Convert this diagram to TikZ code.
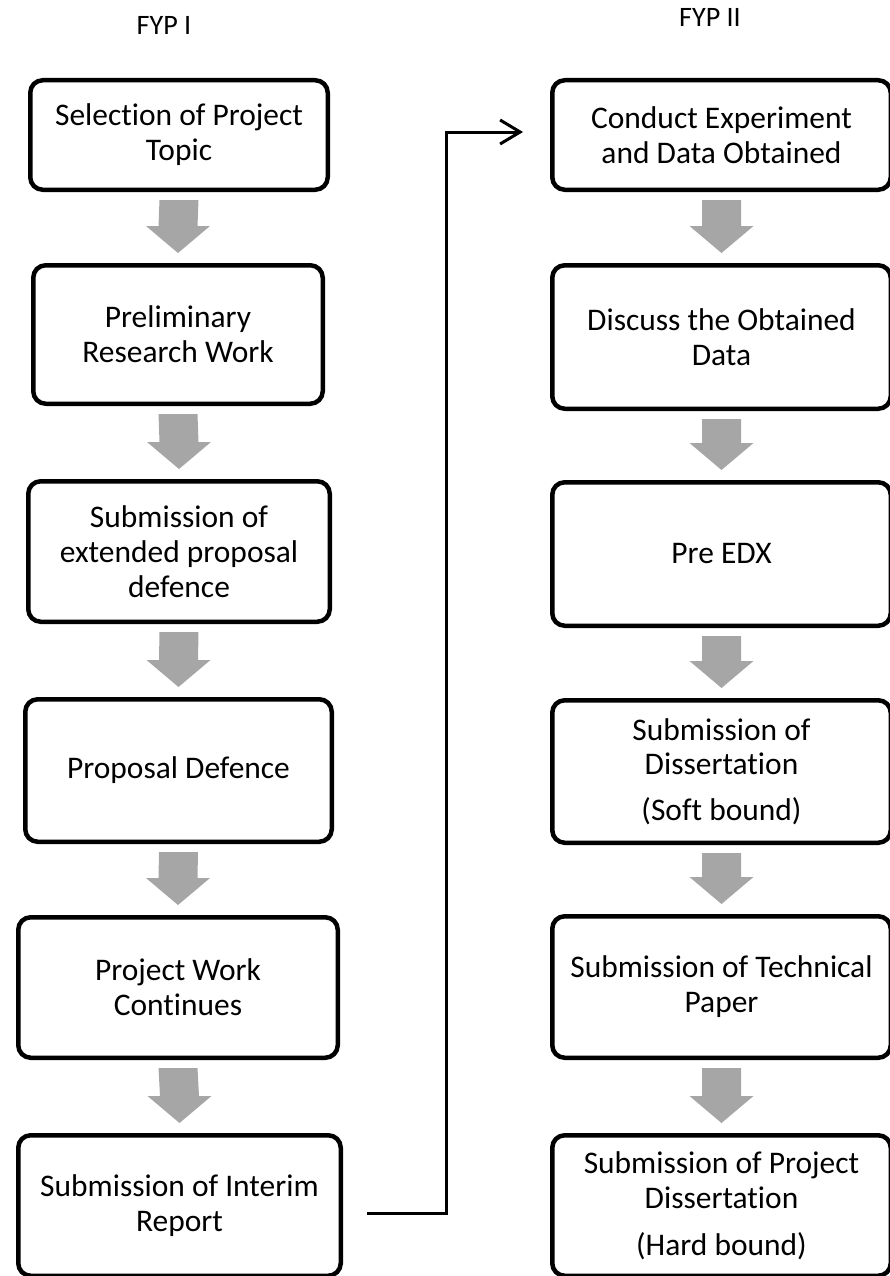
\documentclass[tikz,border=0pt]{standalone}
\usepackage{fontspec}
\setmainfont{Carlito}[Ligatures=NoCommon]
\usepackage{tikz}
\usetikzlibrary{calc}
\usetikzlibrary{arrows.meta}

\definecolor{arrowgray}{HTML}{A6A6A6}
\tikzset{
  stagebox/.style={draw,line width=0.09cm,rounded corners=0.25cm,align=center,
    inner sep=0pt,font=\fontsize{17.9}{19.9}\selectfont},
  phase/.style={font=\fontsize{16}{18}\selectfont},
  link/.style={line width=0.06cm,-{Straight Barb[length=0.4cm,width=0.48cm]}}
}
% thick grey block arrow from one box down to the next
\newcommand{\blockdown}[2]{%
  \path ($(#1.south)+(0,-0.16)$) coordinate (top) ($(#2.north)+(0,0.2)$) coordinate (tip);
  \fill[arrowgray] ($(top)+(-0.39,0)$) -- ($(top)+(0.39,0)$) -- ($(tip)+(0.39,0.54)$)
    -- ($(tip)+(0.64,0.54)$) -- (tip) -- ($(tip)+(-0.64,0.54)$) -- ($(tip)+(-0.39,0.54)$) -- cycle;
}

\begin{document}
\begin{tikzpicture}
        \useasboundingbox (0,0) rectangle (17.78,-25.52);
        \node[phase] (fyp1) at (3.28,-0.50) {FYP I};
        \node[phase] (fyp2) at (14.20,-0.34) {FYP II};
        % FYP I
        \node[stagebox,minimum width=5.95cm,minimum height=2.19cm] (L1) at (3.58,-2.70) {Selection of Project\\Topic};
        \node[stagebox,minimum width=5.79cm,minimum height=2.77cm] (L2) at (3.56,-6.69) {Preliminary\\Research Work};
        \node[stagebox,minimum width=6.03cm,minimum height=2.81cm] (L3) at (3.58,-11.03) {Submission of\\extended proposal\\defence};
        \node[stagebox,minimum width=6.13cm,minimum height=2.85cm] (L4) at (3.57,-15.41) {Proposal Defence};
        \node[stagebox,minimum width=6.39cm,minimum height=2.81cm] (L5) at (3.56,-19.75) {Project Work\\Continues};
        \node[stagebox,minimum width=6.45cm,minimum height=2.81cm] (L6) at (3.59,-24.11) {Submission of Interim\\Report};
        % FYP II
        \node[stagebox,minimum width=6.77cm,minimum height=2.19cm] (R1) at (14.43,-2.70) {Conduct Experiment\\and Data Obtained};
        \node[stagebox,minimum width=6.77cm,minimum height=2.87cm] (R2) at (14.43,-6.74) {Discuss the Obtained\\Data};
        \node[stagebox,minimum width=6.77cm,minimum height=2.87cm] (R3) at (14.43,-11.08) {Pre EDX};
        \node[stagebox,minimum width=6.77cm,minimum height=2.85cm] (R4) at (14.43,-15.43) {Submission of\\Dissertation\\[6pt](Soft bound)};
        \node[stagebox,minimum width=6.77cm,minimum height=2.83cm] (R5) at (14.43,-19.74) {Submission of Technical\\Paper};
        \node[stagebox,minimum width=6.77cm,minimum height=2.81cm] (R6) at (14.43,-24.11) {Submission of Project\\Dissertation\\[7pt](Hard bound)};
        \blockdown{L1}{L2}
        \blockdown{L2}{L3}
        \blockdown{L3}{L4}
        \blockdown{L4}{L5}
        \blockdown{L5}{L6}
        \blockdown{R1}{R2}
        \blockdown{R2}{R3}
        \blockdown{R3}{R4}
        \blockdown{R4}{R5}
        \blockdown{R5}{R6}
        \draw[link]([xshift=0.48cm,yshift=-0.15cm]L6.east) -| ([xshift=-2.08cm,yshift=0.06cm]R1.west) -- ([xshift=-0.54cm,yshift=0.06cm]R1.west);
\end{tikzpicture}
\end{document}
